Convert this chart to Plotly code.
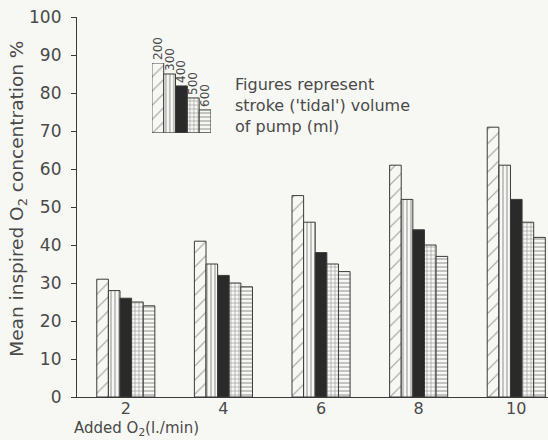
import plotly.graph_objects as go

# ---- data ----
added_o2 = [2, 4, 6, 8, 10]
stroke_volumes = ["200", "300", "400", "500", "600"]
conc_200 = [31, 41, 53, 61, 71]
conc_300 = [28, 35, 46, 52, 61]
conc_400 = [26, 32, 38, 44, 52]
conc_500 = [25, 30, 35, 40, 46]
conc_600 = [24, 29, 33, 37, 42]
legend_heights = [70, 59, 47, 35, 23]
y_ticks = [0, 10, 20, 30, 40, 50, 60, 70, 80, 90, 100]

series = [conc_200, conc_300, conc_400, conc_500, conc_600]

BG = "#f7f7f4"
INK = "#3a3a3a"
TXT = "#4a4a4a"
FONT = "DejaVu Sans"

styles = [
    dict(color=BG, pattern=dict(shape="/", fgcolor=INK, bgcolor=BG, size=10, solidity=0.1)),
    dict(color=BG, pattern=dict(shape="|", fgcolor=INK, bgcolor=BG, size=4, solidity=0.28)),
    dict(color="#2a2a2a"),
    dict(color=BG, pattern=dict(shape="+", fgcolor=INK, bgcolor=BG, size=4, solidity=0.3)),
    dict(color=BG, pattern=dict(shape="-", fgcolor=INK, bgcolor=BG, size=4, solidity=0.28)),
]

fig = go.Figure()
for vals, name, st in zip(series, stroke_volumes, styles):
    fig.add_trace(go.Bar(
        x=added_o2, y=vals, name=name,
        marker=dict(**st, line=dict(color=INK, width=1)),
        showlegend=False, xaxis="x", yaxis="y",
    ))

# inset legend: one bar per stroke volume, labelled above
for i, (h, name, st) in enumerate(zip(legend_heights, stroke_volumes, styles)):
    fig.add_trace(go.Bar(
        x=[i], y=[h], name=name,
        marker=dict(**st, line=dict(color=INK, width=1)),
        width=1.0,
        text=[name], textposition="outside", textangle=-90,
        constraintext="none", cliponaxis=False,
        outsidetextfont=dict(family=FONT, size=12, color=TXT),
        showlegend=False, xaxis="x2", yaxis="y2",
    ))

fig.update_layout(
    width=548, height=440,
    margin=dict(l=77, r=0, t=17, b=43),
    paper_bgcolor=BG, plot_bgcolor=BG,
    barmode="group", bargap=0.405, bargroupgap=0,
    font=dict(family=FONT, color=TXT),
    xaxis=dict(
        range=[1.0, 10.65], tickvals=added_o2, ticktext=[str(v) for v in added_o2],
        showgrid=False, zeroline=False, showline=True, linecolor=INK, linewidth=1.2,
        ticks="", ticklen=0, tickfont=dict(size=16, color=TXT), ticklabelstandoff=-3,
    ),
    yaxis=dict(
        range=[0, 100], tickvals=y_ticks, showgrid=False, zeroline=False,
        showline=True, linecolor=INK, linewidth=1.2,
        ticks="outside", ticklen=5, tickcolor=INK, tickwidth=1,
        tickfont=dict(size=17, color=TXT), ticklabelstandoff=6,
    ),
    xaxis2=dict(domain=[0.159, 0.2845], anchor="y2", range=[-0.5, 4.5],
                visible=False),
    yaxis2=dict(domain=[0.695, 0.879], anchor="x2", range=[0, 70], visible=False),
    annotations=[
        dict(text="Mean inspired O<sub>2</sub> concentration %", textangle=-90,
             xref="paper", yref="paper", x=-0.125, y=0.522,
             xanchor="center", yanchor="middle", showarrow=False,
             font=dict(size=18.5, color=TXT)),
        dict(text="Added O<sub>2</sub>(l./min)",
             xref="paper", yref="paper", x=-0.01, y=-0.113,
             xanchor="left", yanchor="bottom", showarrow=False,
             font=dict(size=15, color=TXT)),
        dict(text="Figures represent<br>stroke ('tidal') volume<br>of pump (ml)",
             xref="paper", yref="paper", x=(233 - 77) / 471, y=(397 - 105) / 380,
             xanchor="left", yanchor="middle", align="left", showarrow=False,
             font=dict(size=16, color=TXT)),
    ],
)

fig.write_html("out.html")
